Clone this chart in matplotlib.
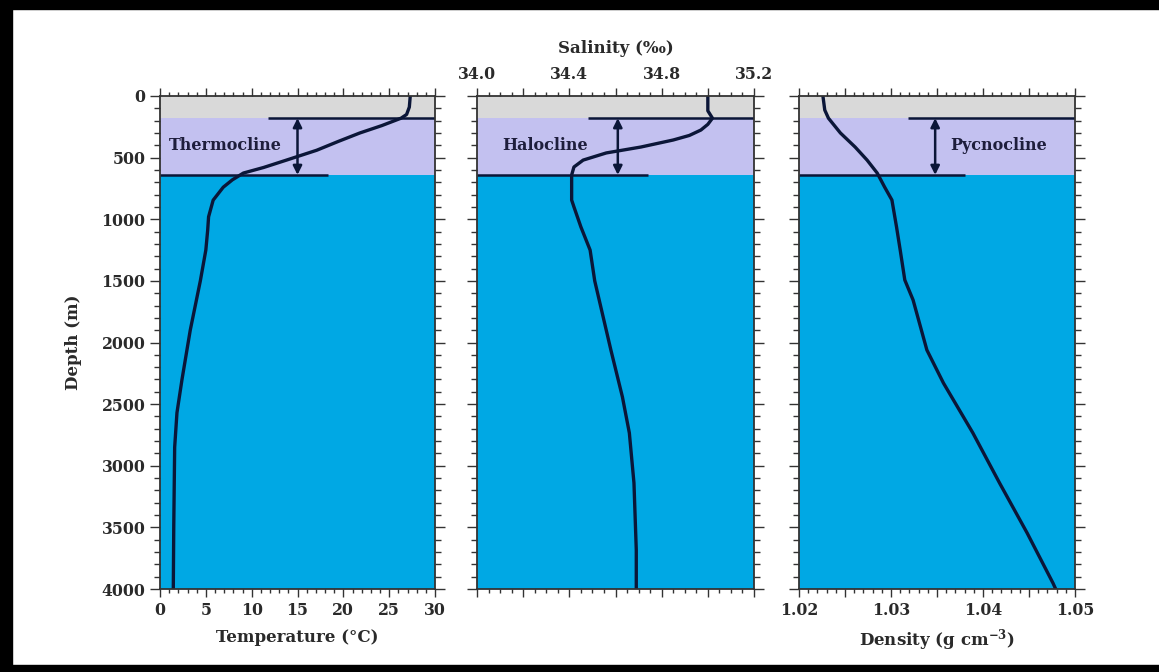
import matplotlib
matplotlib.use("Agg")
import matplotlib.pyplot as plt
from matplotlib.patches import Rectangle
from matplotlib.ticker import MultipleLocator

# ---------------- data ----------------
depth_T = [0, 90, 150, 180, 240, 300, 370, 440, 520, 580, 625, 680, 740, 845, 980, 1090,
           1250, 1500, 1900, 2300, 2570, 2850, 3500, 4000]
temp = [27.3, 27.2, 26.9, 26.3, 24.2, 21.8, 19.4, 17.1, 13.8, 11.3, 9.1, 7.9, 6.9, 5.8, 5.3, 5.2,
        5.0, 4.4, 3.3, 2.4, 1.85, 1.6, 1.5, 1.45]

depth_S = [0, 120, 180, 230, 276, 320, 357, 414, 462, 520, 576, 641, 844, 900, 1062,
           1250, 1500, 2061, 2442, 2734, 3140, 3684, 4000]
sal = [35.00, 35.00, 35.02, 35.00, 34.97, 34.92, 34.85, 34.71, 34.56, 34.46, 34.42,
       34.41, 34.41, 34.42, 34.45, 34.49, 34.51, 34.58, 34.63, 34.66, 34.68, 34.69, 34.69]

depth_D = [0, 114, 180, 300, 414, 520, 625, 738, 844, 1062, 1250, 1493, 1655, 2061,
           2329, 2734, 3140, 3546, 3951, 4000]
dens = [1.0226, 1.0228, 1.0232, 1.0245, 1.0261, 1.0274, 1.0285, 1.0293, 1.0301, 1.0306,
        1.0310, 1.0315, 1.0324, 1.0339, 1.0357, 1.0389, 1.0418, 1.0448, 1.0476, 1.0479]

mixed_bottom = 180      # bottom of surface mixed layer (m)
cline_bottom = 640      # bottom of the cline layer (m)
max_depth = 4000

temp_ticks = [0, 5, 10, 15, 20, 25, 30]
temp_labels = ['0', '5', '10', '15', '20', '25', '30']
sal_ticks = [34.0, 34.2, 34.4, 34.6, 34.8, 35.0, 35.2]
sal_labels = ['34.0', '', '34.4', '', '34.8', '', '35.2']
dens_ticks = [1.02, 1.025, 1.03, 1.035, 1.04, 1.045, 1.05]
dens_labels = ['1.02', '', '1.03', '', '1.04', '', '1.05']
depth_ticks = [0, 500, 1000, 1500, 2000, 2500, 3000, 3500, 4000]
depth_labels = ['0', '500', '1000', '1500', '2000', '2500', '3000', '3500', '4000']

thermo = dict(upper=(11.8, 30), lower=(0, 18.3), arrow=15.0, label="Thermocline", lx=1.0)
halo = dict(upper=(34.48, 35.2), lower=(34.0, 34.74), arrow=34.61, label="Halocline", lx=34.11)
pycno = dict(upper=(1.0318, 1.05), lower=(1.02, 1.038), arrow=1.0348, label="Pycnocline", lx=1.0364)

# ---------------- style ----------------
W, H = 1159, 672
plt.rcParams['font.family'] = ['DejaVu Serif']
plt.rcParams['font.weight'] = 'bold'
plt.rcParams['mathtext.fontset'] = 'dejavuserif'
plt.rcParams['mathtext.default'] = 'bf'

GRAY = '#d9d9d9'
LAV = '#c3c1f0'
BLUE = '#00a8e4'
LINE = '#0b1638'
TXT = '#1e1e3c'
LAB = '#2a2a2a'

fig = plt.figure(figsize=(W / 100, H / 100), dpi=100)
fig.patch.set_facecolor('white')

def px_axes(x0, x1, y0, y1):
    return fig.add_axes([x0 / W, 1 - y1 / H, (x1 - x0) / W, (y1 - y0) / H])

ax1 = px_axes(160, 435, 96, 589)
ax2 = px_axes(477, 754, 96, 589)
ax3 = px_axes(799, 1075, 96, 589)

def base(ax, xlim, xticks, xlabels, xminor):
    ax.set_xlim(*xlim)
    ax.set_ylim(max_depth, 0)
    ax.axhspan(0, mixed_bottom, color=GRAY, zorder=0, lw=0)
    ax.axhspan(mixed_bottom, cline_bottom, color=LAV, zorder=0, lw=0)
    ax.axhspan(cline_bottom, max_depth, color=BLUE, zorder=0, lw=0)
    ax.set_xticks(xticks, labels=xlabels)
    ax.xaxis.set_minor_locator(MultipleLocator(xminor))
    ax.set_yticks(depth_ticks, labels=depth_labels)
    ax.yaxis.set_minor_locator(MultipleLocator(100))
    ax.tick_params(which='both', direction='out', top=True, bottom=True, left=True,
                   right=True, color='#333333', width=1.0,
                   labeltop=False, labelbottom=False, labelleft=False, labelright=False)
    ax.tick_params(axis='x', which='major', length=6)
    ax.tick_params(axis='x', which='minor', length=3)
    ax.tick_params(axis='y', which='major', length=7)
    ax.tick_params(axis='y', which='minor', length=4)
    for s in ax.spines.values():
        s.set_color('#333333')
        s.set_linewidth(1.3)
        s.set_zorder(5)

def marks(ax, m):
    ax.plot(m['upper'], [mixed_bottom, mixed_bottom], color=LINE, lw=1.8, zorder=3,
            solid_capstyle='butt')
    ax.plot(m['lower'], [cline_bottom, cline_bottom], color=LINE, lw=1.8, zorder=3,
            solid_capstyle='butt')
    ax.annotate('', xy=(m['arrow'], mixed_bottom), xytext=(m['arrow'], cline_bottom),
                arrowprops=dict(arrowstyle='<|-|>', color=LINE, lw=1.8,
                                mutation_scale=13, shrinkA=0, shrinkB=0), zorder=4)
    ax.text(m['lx'], 400, m['label'], ha='left', va='center', fontsize=11.5,
            fontweight='bold', color=TXT, zorder=4)

# Panel 1: temperature
base(ax1, (0, 30), temp_ticks, temp_labels, 1)
ax1.plot(temp, depth_T, color=LINE, lw=2.4, zorder=3)
marks(ax1, thermo)
ax1.tick_params(labelbottom=True, labelleft=True)
ax1.set_xlabel('Temperature (°C)', fontsize=12, fontweight='bold', color=LAB, labelpad=7)
ax1.set_ylabel('Depth (m)', fontsize=12, fontweight='bold', color=LAB, labelpad=14)

# Panel 2: salinity
base(ax2, (34.0, 35.2), sal_ticks, sal_labels, 0.05)
ax2.plot(sal, depth_S, color=LINE, lw=2.4, zorder=3)
marks(ax2, halo)
ax2.tick_params(labeltop=True)
ax2.xaxis.set_label_position('top')
ax2.set_xlabel('Salinity (‰)', fontsize=12, fontweight='bold', color=LAB, labelpad=9)

# Panel 3: density
base(ax3, (1.02, 1.05), dens_ticks, dens_labels, 0.001)
ax3.plot(dens, depth_D, color=LINE, lw=2.4, zorder=3)
marks(ax3, pycno)
ax3.tick_params(labelbottom=True)
ax3.set_xlabel(r'Density (g cm$^{\mathbf{-3}}$)', fontsize=12, fontweight='bold',
               color=LAB, labelpad=6)

for ax in (ax1, ax2, ax3):
    for lab in ax.get_xticklabels() + ax.get_yticklabels():
        lab.set_fontsize(11.3)
        lab.set_fontweight('bold')
        lab.set_color(LAB)

# black frame bars
fig.patches.append(Rectangle((0, 1 - 9 / H), 1, 9 / H, transform=fig.transFigure,
                             color='black', zorder=10))
fig.patches.append(Rectangle((0, 0), 1, 7 / H, transform=fig.transFigure,
                             color='black', zorder=10))
fig.patches.append(Rectangle((0, 0), 12 / W, 1, transform=fig.transFigure,
                             color='black', zorder=10))

fig.savefig('out.png', dpi=100, facecolor='white')
